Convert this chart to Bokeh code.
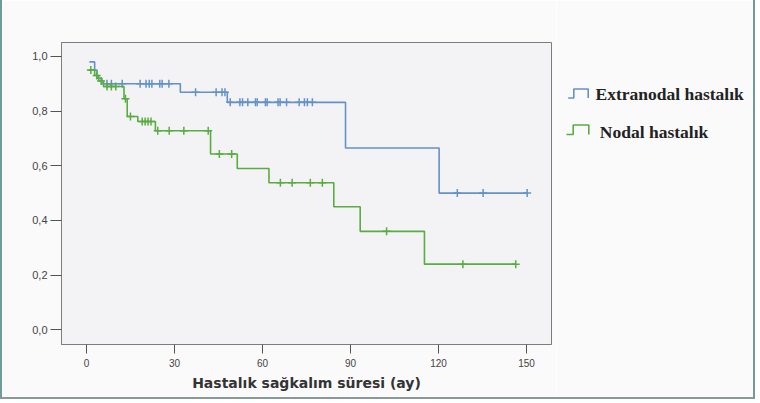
import numpy as np
from bokeh.plotting import figure
from bokeh.layouts import row
from bokeh.models import Range1d, FixedTicker, CustomJSTickFormatter
from bokeh.core.properties import value
from bokeh.embed import file_html
from bokeh.resources import INLINE

# ---------------- data ----------------
series_names = ["Extranodal hastalık", "Nodal hastalık"]

# Extranodal (blue): event times (months) and survival level after each event
extra_times = [1.0, 2.8, 3.6, 5.3, 32.0, 48.0, 88.3, 120.2]
extra_surv = [0.98, 0.95, 0.92, 0.90, 0.869, 0.832, 0.665, 0.50]
extra_end = 150.2
extra_censor = [7.0, 8.5, 12.2, 18.3, 20.3, 21.4, 22.3, 25.0, 25.8, 28.1,
                37.2, 44.2, 46.2, 47.2, 49.0, 52.3, 53.2, 55.0, 57.6, 58.2,
                61.0, 61.6, 65.3, 66.0, 68.2, 72.5, 74.3, 75.3, 77.0,
                126.4, 135.2, 150.2]

# Nodal (green)
nodal_times = [0.7, 2.8, 4.2, 5.8, 12.8, 13.9, 17.5, 23.5, 42.3, 51.4,
               62.2, 84.3, 93.3, 115.2]
nodal_surv = [0.95, 0.93, 0.91, 0.89, 0.845, 0.78, 0.762, 0.728, 0.643, 0.59,
              0.538, 0.45, 0.36, 0.24]
nodal_end = 146.3
nodal_censor = [1.5, 3.5, 5.0, 7.0, 8.5, 10.0, 13.3, 15.0, 19.0, 20.0, 21.0,
                22.0, 24.3, 28.2, 33.2, 41.5, 45.3, 49.5, 66.1, 70.1, 76.3,
                80.4, 102.3, 128.3, 146.3]

x_ticks = [0, 30, 60, 90, 120, 150]
y_ticks = [0.0, 0.2, 0.4, 0.6, 0.8, 1.0]
x_title = "Hastalık sağkalım süresi (ay)"

BLUE = "#6392ca"
GREEN = "#58ad40"
PAGE_BG = "#fafafb"

# ---------------- main plot ----------------
H = 397
FL, FT, FW, FH = 59, 42, 490, 302
MAIN_W = FL + FW + 5

p = figure(width=MAIN_W, height=H, output_backend="svg", toolbar_location=None,
           x_range=Range1d(-8.5, 158.5), y_range=Range1d(-0.054, 1.051),
           min_border_left=FL, min_border_right=5,
           min_border_top=FT, min_border_bottom=H - FT - FH)

p.background_fill_color = "#f3f3f5"
p.border_fill_color = PAGE_BG
p.outline_line_color = "#7d7d7d"
p.outline_line_width = 1
p.xgrid.visible = False
p.ygrid.visible = False

for ax in (p.xaxis, p.yaxis):
    ax.axis_line_color = "#7d7d7d"
    ax.major_tick_line_color = "#555555"
    ax.major_tick_in = 0
    ax.minor_tick_line_color = None
    ax.major_label_text_font = "Liberation Sans"
    ax.major_label_text_font_size = "10px"
    ax.major_label_text_color = "#444444"

p.xaxis.ticker = FixedTicker(ticks=x_ticks)
p.xaxis.major_tick_out = 9
p.xaxis.major_label_standoff = 5
p.xaxis.axis_label = x_title
p.xaxis.axis_label_text_font = "DejaVu Sans"
p.xaxis.axis_label_text_font_style = "bold"
p.xaxis.axis_label_text_font_size = "14px"
p.xaxis.axis_label_text_color = "#333333"
p.xaxis.axis_label_standoff = 5

p.yaxis.ticker = FixedTicker(ticks=y_ticks)
p.yaxis.formatter = CustomJSTickFormatter(code="return tick.toFixed(1).replace('.', ',');")
p.yaxis.major_label_text_font_size = "11px"
p.yaxis.major_tick_out = 11
p.yaxis.major_label_standoff = 3


def step_curve(times, surv, end):
    xs = list(times) + [end]
    ys = list(surv) + [surv[-1]]
    return xs, ys


def censor_y(times, surv, cens):
    idx = np.searchsorted(np.array(times), np.array(cens), side="right") - 1
    idx = np.clip(idx, 0, len(surv) - 1)
    return list(np.array(surv)[idx])


for times, surv, end, cens, col in [
        (extra_times, extra_surv, extra_end, extra_censor, BLUE),
        (nodal_times, nodal_surv, nodal_end, nodal_censor, GREEN)]:
    xs, ys = step_curve(times, surv, end)
    p.step(xs, ys, mode="after", line_color=col, line_width=1.6)
    p.scatter(cens, censor_y(times, surv, cens), marker="cross", size=8,
              line_color=col, line_width=1.5)

# ---------------- legend panel ----------------
# The row layout aligns this panel's frame with the main plot's frame
# (rows FT .. FT+FH), so its y range is expressed in page pixels (downward).
LEG_W = 751 - MAIN_W
lg = figure(width=LEG_W, height=H, output_backend="svg", toolbar_location=None,
            x_range=Range1d(0, LEG_W), y_range=Range1d(FT + FH, FT),
            x_axis_location=None, y_axis_location=None,
            min_border=0)
lg.xgrid.visible = False
lg.ygrid.visible = False
lg.outline_line_color = None
lg.background_fill_color = PAGE_BG
lg.border_fill_color = PAGE_BG

legend_colors = [BLUE, GREEN]
# symbol: (x0, xm, x1, y_bottom, y_top), text anchor (x, baseline)
legend_layout = [
    ((11.7, 17.3, 31.7, 97.5, 88.5), (39.0, 93.5)),
    ((10.0, 16.7, 32.3, 134.0, 124.5), (43.3, 131.5)),
]
for name, col, (sym, txt) in zip(series_names, legend_colors, legend_layout):
    x0, xm, x1, yb, yt = sym
    lg.line([x0, xm, xm, x1, x1], [yb, yb, yt, yt, yb], line_color=col, line_width=1.6)
    lg.text(x=[txt[0]], y=[txt[1]], text=[name],
            text_font=value("Liberation Serif"), text_font_style="bold",
            text_font_size="17.5px", text_color="#222222",
            text_baseline="alphabetic", text_align="left")

layout = row(p, lg, spacing=0,
             styles={"border-left": "2px solid #6f9c9a",
                     "border-right": "2px solid #6f9c9a",
                     "border-bottom": "2px solid #8a9a9a"})

open("out.html", "w").write(file_html(layout, INLINE))
